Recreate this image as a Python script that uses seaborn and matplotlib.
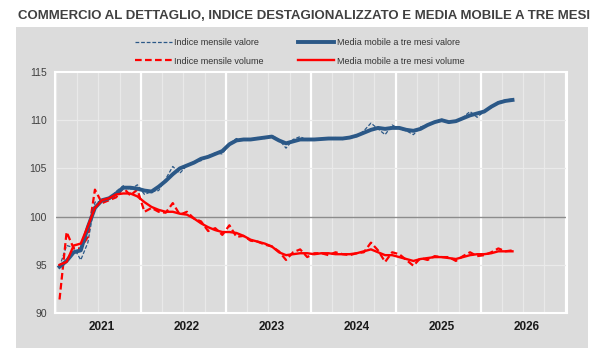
import matplotlib
matplotlib.use('Agg')
import matplotlib.pyplot as plt
import matplotlib.patches as patches
import seaborn as sns
import pandas as pd
import numpy as np

# Months from Jul 2020 (index 0) to Nov 2025
months = list(range(65))

valore_mensile = [94.8, 97.0, 96.8, 95.5, 97.3, 101.5, 101.6, 101.8, 102.6, 103.2,
                  102.8, 103.3, 102.3, 102.6, 102.7, 103.9, 105.2, 104.5, 105.3, 105.7,
                  105.8, 106.3, 106.6, 106.5, 107.6, 108.1, 107.9, 108.0, 108.2, 108.1,
                  108.4, 108.0, 107.1, 108.0, 108.3, 107.9, 108.0, 108.1, 108.0, 108.2,
                  108.0, 108.2, 108.3, 108.9, 109.7, 109.1, 108.5, 109.5, 109.1, 108.9,
                  108.5, 109.3, 109.5, 109.8, 110.1, 109.7, 109.9, 110.3, 110.9, 110.3,
                  110.9, 111.3, 111.9, 112.1, 112.2]

valore_mm = [94.8, 95.4, 96.3, 96.5, 98.9, 100.9, 101.7, 101.9, 102.4, 103.0,
             103.0, 102.9, 102.7, 102.6, 103.1, 103.7, 104.4, 105.0, 105.3, 105.6,
             106.0, 106.2, 106.5, 106.8, 107.5, 107.9, 108.0, 108.0, 108.1, 108.2,
             108.3, 107.9, 107.6, 107.8, 108.0, 108.0, 108.0, 108.05, 108.1, 108.1,
             108.1, 108.2, 108.4, 108.7, 109.0, 109.2, 109.1, 109.2, 109.2, 109.0,
             108.9, 109.1, 109.5, 109.8, 110.0, 109.8, 109.9, 110.2, 110.5, 110.7,
             110.9, 111.4, 111.8, 112.0, 112.1]

volume_mensile = [91.4, 98.4, 96.7, 96.7, 97.9, 102.8, 101.4, 101.7, 102.0, 103.0,
                  102.2, 102.8, 100.5, 100.9, 100.5, 100.4, 101.4, 100.2, 100.5, 99.8,
                  99.5, 98.5, 98.8, 98.1, 99.1, 97.9, 98.0, 97.5, 97.4, 97.1,
                  96.9, 96.4, 95.5, 96.3, 96.6, 95.8, 96.2, 96.2, 96.0, 96.3,
                  96.1, 96.0, 96.2, 96.3, 97.3, 96.5, 95.3, 96.3, 96.1, 95.5,
                  94.9, 95.7, 95.5, 95.9, 95.8, 95.8, 95.4, 95.9, 96.3, 95.9,
                  96.0, 96.3, 96.7, 96.4, 96.5]

volume_mm = [95.0, 95.3, 97.0, 97.2, 99.0, 100.9, 101.7, 101.9, 102.3, 102.4,
             102.4, 102.1, 101.5, 101.0, 100.7, 100.5, 100.5, 100.3, 100.2, 99.8,
             99.3, 98.9, 98.6, 98.4, 98.4, 98.3, 98.0, 97.6, 97.4, 97.2,
             96.9, 96.3, 96.0, 96.1, 96.2, 96.2, 96.1, 96.2, 96.2, 96.1,
             96.1, 96.1, 96.2, 96.4, 96.6, 96.3, 96.0, 96.0, 95.8, 95.6,
             95.4, 95.6, 95.7, 95.8, 95.8, 95.7, 95.6, 95.8, 96.0, 96.1,
             96.1, 96.2, 96.4, 96.4, 96.4]

years = ['2021', '2022', '2023', '2024', '2025', '2026']
year_pos = [6, 18, 30, 42, 54, 66]

df = pd.DataFrame({'mese': months,
                   'valore_mensile': valore_mensile, 'valore_mm': valore_mm,
                   'volume_mensile': volume_mensile, 'volume_mm': volume_mm})

blue = '#2B5887'
red = '#FF0000'
panel = '#DCDCDC'

plt.rcParams['font.family'] = ['Liberation Sans', 'DejaVu Sans']

fig = plt.figure(figsize=(6, 3.6), dpi=100)
fig.patch.set_facecolor('white')
fig.patches.append(patches.Rectangle((16 / 600, 1 - 348 / 360), 572 / 600, 321 / 360,
                                     transform=fig.transFigure, facecolor=panel,
                                     edgecolor='none', zorder=-1))

ax = fig.add_axes([55 / 600, 1 - 313 / 360, 512 / 600, 241 / 360])
ax.set_zorder(2)
ax.set_facecolor(panel)

# gridlines
for q in np.arange(-0.5, 72, 3):
    ax.axvline(q, color='#E9E9E9', lw=0.9, zorder=1)
for yb in np.arange(11.5, 72, 12):
    ax.axvline(yb, color='white', lw=1.6, zorder=1)
for yv in [95, 105, 110]:
    ax.axhline(yv, color='#EAEAEA', lw=0.9, zorder=1)
ax.axhline(100, color='#8C8C8C', lw=1.0, zorder=1)

sns.lineplot(data=df, x='mese', y='valore_mensile', ax=ax, color=blue, lw=0.9,
             linestyle=(0, (3, 1.5)), label='Indice mensile valore', zorder=3)
sns.lineplot(data=df, x='mese', y='volume_mensile', ax=ax, color=red, lw=1.6,
             linestyle=(0, (3, 1.5)), label='Indice mensile volume', zorder=3)
sns.lineplot(data=df, x='mese', y='valore_mm', ax=ax, color=blue, lw=2.8,
             label='Media mobile a tre mesi valore', zorder=4)
sns.lineplot(data=df, x='mese', y='volume_mm', ax=ax, color=red, lw=1.7,
             label='Media mobile a tre mesi volume', zorder=4)

ax.set_xlim(-0.64, 71.7)
ax.set_ylim(90, 115)
ax.set_xticks(year_pos)
ax.set_xticklabels(years, fontweight='bold', fontsize=8.5, color='#1a1a1a')
ax.set_yticks([90, 95, 100, 105, 110, 115])
ax.set_yticklabels(['90', '95', '100', '105', '110', '115'], fontsize=7.5, color='#404040')
ax.tick_params(length=0, pad=6)
ax.set_xlabel('')
ax.set_ylabel('')
for s in ax.spines.values():
    s.set_color('white')
    s.set_linewidth(1.5)

handles, labels = ax.get_legend_handles_labels()
ax.get_legend().remove()
fig.legend(handles, labels, ncol=2, loc='center', bbox_to_anchor=(0.5, 1 - 52 / 360),
           frameon=False, fontsize=6.5, handlelength=4.0, handletextpad=0.3,
           columnspacing=3.8, labelspacing=1.0, labelcolor='#333333')

fig.text(18 / 600, 1 - 16 / 360,
         'COMMERCIO AL DETTAGLIO, INDICE DESTAGIONALIZZATO E MEDIA MOBILE A TRE MESI',
         fontsize=9.5, fontweight='bold', color='#404040', va='center', ha='left')

fig.savefig('out.png', dpi=100)
